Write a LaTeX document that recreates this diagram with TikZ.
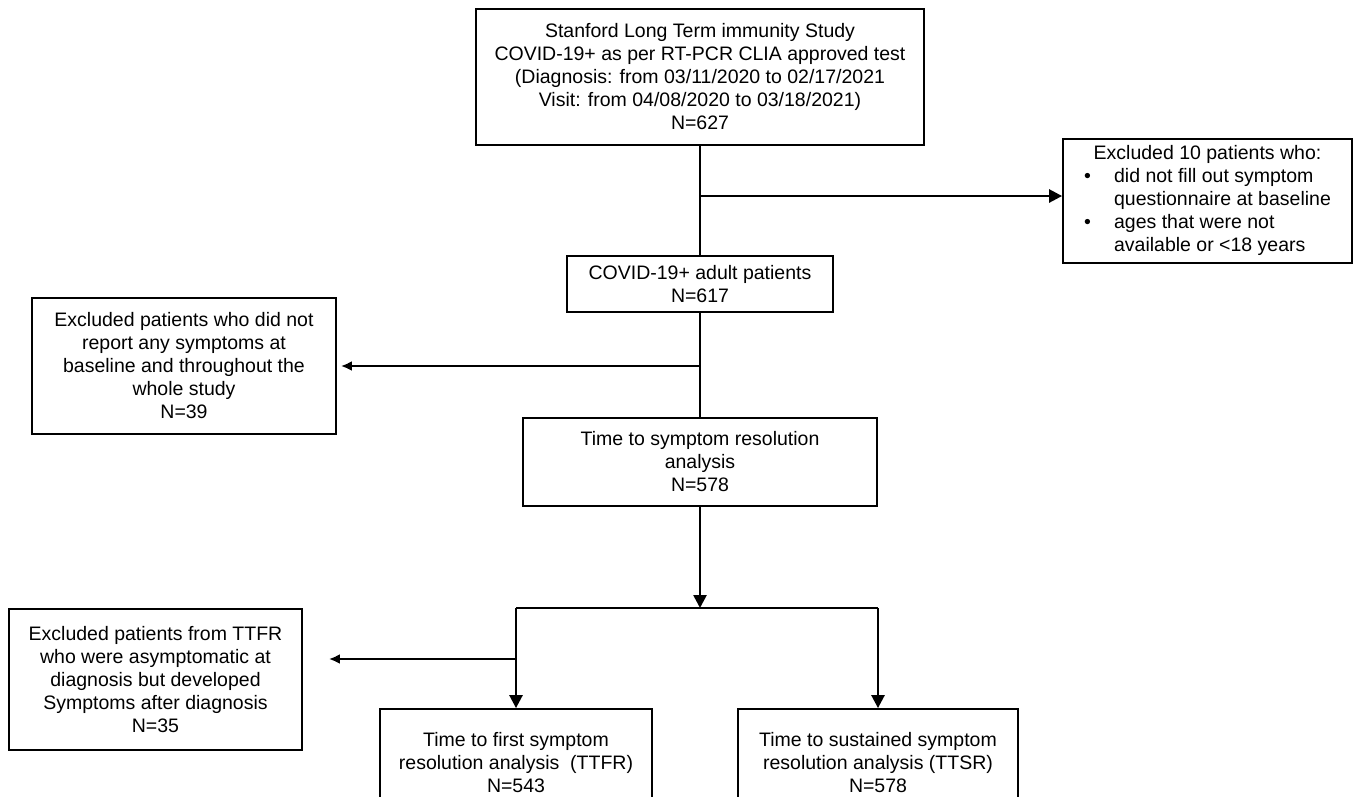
\documentclass[tikz,border=0pt]{standalone}
\usepackage{fontspec}
\setmainfont{Liberation Sans}
\usetikzlibrary{arrows.meta}
\newcommand{\flowfont}{\fontsize{19.5}{23}\selectfont}

\begin{document}
\begin{tikzpicture}[x=1pt,y=-1pt,
    box/.style={draw,line width=1.8pt,align=center,font=\flowfont,inner sep=0pt},
    link/.style={line width=2.6pt},
    downarrow/.style={-{Triangle[length=13pt,width=13pt]}},
    leftarrow/.style={-{Latex[length=11pt,width=10pt]}}]
        \useasboundingbox (0,0) rectangle (1355,796);
        \clip (0,0) rectangle (1355,796);
        %riquadri principali
        \node[box,minimum width=448,minimum height=136] (topbox) at (700,77) {Stanford Long Term immunity Study\\COVID-19+ as per RT-PCR CLIA approved test\\(Diagnosis: from 03/11/2020 to 02/17/2021\\Visit: from 04/08/2020 to 03/18/2021)\\N=627};
        \node[box,minimum width=266,minimum height=56] (adult) at (700,284) {COVID-19+ adult patients\\N=617};
        \node[box,minimum width=354,minimum height=88] (tsr) at (700,462) {Time to symptom resolution\\analysis\\N=578};
        \node[box,minimum width=272,minimum height=108] (ttfr) at (516,763) {Time to first symptom\\resolution analysis\ \ (TTFR)\\N=543};
        \node[box,minimum width=280,minimum height=108] (ttsr) at (878,763) {Time to sustained symptom\\resolution analysis (TTSR)\\N=578};
        %esclusi
        \node[box,minimum width=289,minimum height=124] (excl1) at (1207.5,201) {\begin{tabular}{@{}p{30pt}@{}l@{}}\multicolumn{2}{@{}c@{}}{Excluded 10 patients who:}\\\textbullet & did not fill out symptom\\ & questionnaire at baseline\\\textbullet & ages that were not\\ & available or <18 years\end{tabular}};
        \node[box,minimum width=304,minimum height=136] (excl2) at (184,366) {Excluded patients who did not\\report any symptoms at\\baseline and throughout the\\whole study\\N=39};
        \node[box,minimum width=293,minimum height=141] (excl3) at (155.5,679.5) {Excluded patients from TTFR\\who were asymptomatic at\\diagnosis but developed\\Symptoms after diagnosis\\N=35};
        %punti di diramazione
        \coordinate (j1) at (700,196);
        \coordinate (j2) at (700,366);
        \coordinate (fork) at (700,608);
        \coordinate (j3) at (516,659);
        %collegamenti
        \draw[link] (topbox) -- (adult);
        \draw[link,downarrow] (j1) -- (j1 -| excl1.west);
        \draw[link] (adult) -- (tsr);
        \draw[link,leftarrow,shorten >=4pt] (j2) -- (j2 -| excl2.east);
        \draw[link,downarrow] (tsr) -- (fork);
        \draw[link] (fork -| ttfr.north) -- (fork -| ttsr.north);
        \draw[link,downarrow] (fork -| ttfr.north) -- (ttfr);
        \draw[link,downarrow] (fork -| ttsr.north) -- (ttsr);
        \draw[link,leftarrow,shorten >=26pt] (j3) -- (j3 -| excl3.east);
\end{tikzpicture}
\end{document}
